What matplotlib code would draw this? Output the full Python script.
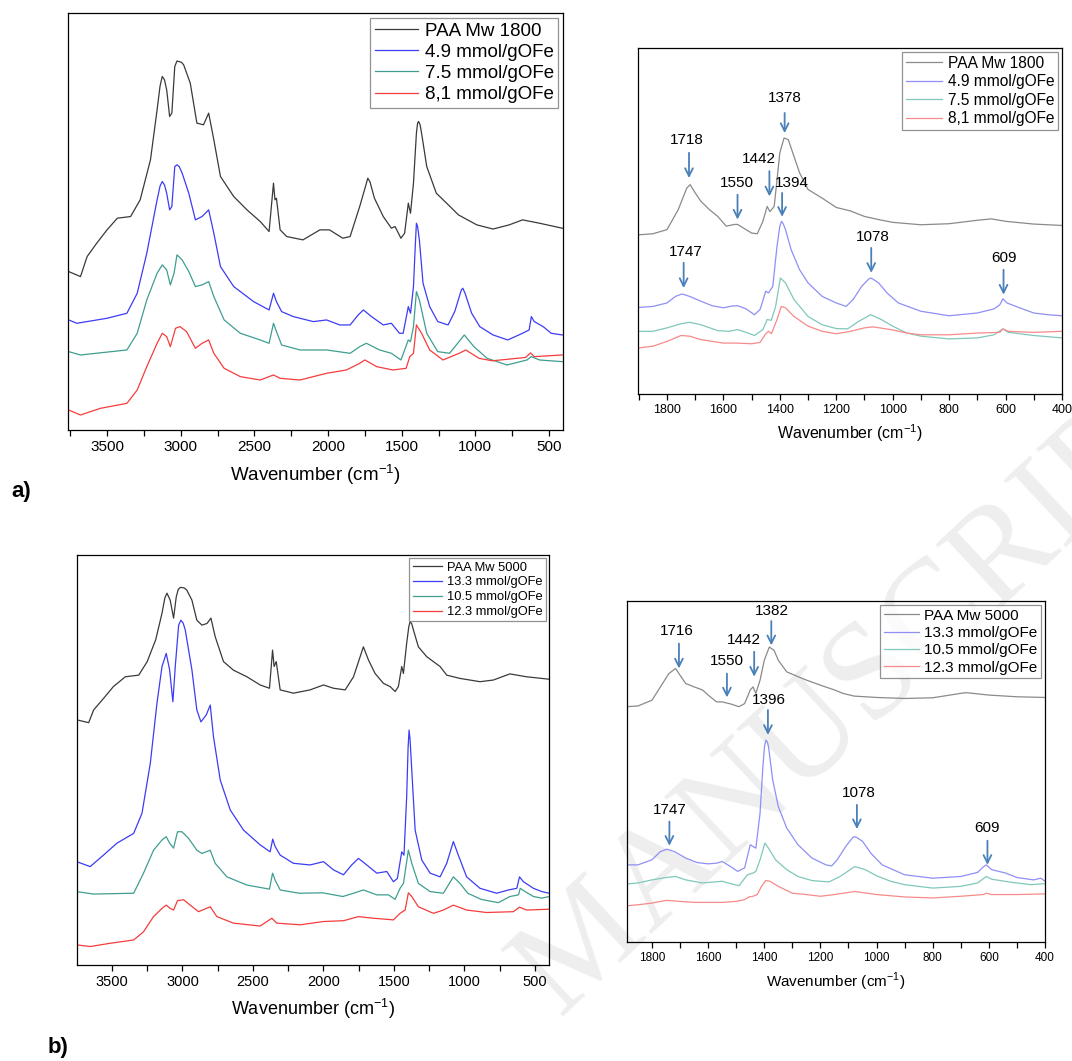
import matplotlib
matplotlib.use("Agg")
import matplotlib.pyplot as plt
from matplotlib.ticker import MultipleLocator

plt.rcParams['font.family'] = ['Liberation Sans', 'DejaVu Sans']

# ---------------- panel a, full range (PAA Mw 1800) ----------------
a_full_paa_wn = [3760, 3680, 3635, 3570, 3500, 3430, 3340, 3275, 3205, 3160, 3140, 3125, 3110, 3095,
                 3075, 3060, 3040, 3025, 3015, 2995, 2980, 2935, 2890, 2845, 2810, 2775, 2730, 2640,
                 2550, 2460, 2400, 2370, 2360, 2350, 2325, 2280, 2170, 2055, 1990, 1900, 1850, 1785,
                 1745, 1730, 1715, 1685, 1625, 1570, 1545, 1505, 1480, 1455, 1440, 1420, 1400, 1392,
                 1385, 1375, 1365, 1330, 1265, 1195, 1115, 990, 880, 770, 680, 565, 410]
a_full_paa_y = [38.0, 36.8, 41.6, 44.8, 48.0, 50.8, 51.2, 55.2, 64.8, 76.8, 82.5, 84.8, 84.0, 81.6,
                75.2, 76.0, 87.2, 88.5, 88.4, 88.2, 87.6, 83.2, 73.6, 73.2, 76.0, 69.6, 60.8, 56.0,
                52.8, 50.0, 47.6, 59.2, 55.2, 55.6, 48.0, 46.4, 45.6, 48.0, 48.0, 46.0, 46.4, 53.6,
                58.5, 60.4, 59.5, 55.6, 51.2, 48.4, 48.8, 46.0, 47.2, 54.4, 52.0, 59.2, 71.2, 73.6,
                74.0, 73.2, 71.2, 63.2, 56.8, 54.4, 51.6, 49.2, 48.2, 49.2, 50.4, 49.6, 48.4]

a_full_49_wn = [3760, 3705, 3500, 3365, 3295, 3230, 3160, 3140, 3125, 3110, 3095, 3075, 3060, 3040,
                3025, 3010, 2990, 2945, 2900, 2855, 2810, 2775, 2730, 2640, 2505, 2400, 2370, 2350,
                2315, 2235, 2100, 2010, 1920, 1850, 1795, 1760, 1705, 1625, 1570, 1515, 1490, 1455,
                1440, 1420, 1408, 1400, 1392, 1380, 1355, 1310, 1255, 1185, 1140, 1095, 1085, 1070,
                1025, 970, 880, 780, 680, 635, 620, 600, 540, 485, 410]
a_full_49_y = [26.4, 25.6, 26.8, 28.0, 32.8, 42.4, 55.2, 58.5, 59.6, 58.8, 56.8, 52.8, 53.6, 63.2,
               63.6, 63.2, 61.6, 56.8, 50.4, 51.2, 52.8, 47.2, 39.2, 34.4, 30.8, 28.8, 32.8, 30.8,
               28.4, 27.2, 26.0, 26.4, 25.2, 25.2, 27.6, 28.8, 27.2, 25.2, 25.6, 23.2, 23.2, 29.6,
               28.0, 34.4, 44.0, 49.6, 48.8, 45.6, 35.2, 29.6, 26.0, 25.2, 28.4, 33.6, 34.0, 32.8,
               28.0, 24.8, 22.8, 21.6, 23.2, 24.0, 27.2, 26.0, 24.8, 23.2, 22.8]

a_full_75_wn = [3760, 3680, 3365, 3295, 3230, 3160, 3125, 3095, 3070, 3045, 3025, 2990, 2945, 2900,
                2855, 2810, 2775, 2705, 2595, 2460, 2400, 2370, 2350, 2315, 2190, 2010, 1850, 1785,
                1740, 1650, 1570, 1505, 1455, 1440, 1420, 1400, 1380, 1330, 1255, 1175, 1120, 1075,
                1010, 920, 785, 650, 620, 565, 410]
a_full_75_y = [18.8, 18.0, 19.2, 23.2, 31.2, 37.6, 39.6, 38.4, 34.8, 37.6, 42.0, 40.8, 38.0, 34.4,
               34.8, 35.6, 32.0, 26.4, 23.2, 21.6, 20.8, 25.6, 23.6, 20.4, 19.2, 19.2, 18.4, 20.0,
               20.8, 19.2, 18.4, 16.8, 21.6, 21.2, 24.8, 33.2, 31.2, 23.2, 18.8, 18.4, 20.8, 22.8,
               20.0, 17.2, 15.6, 16.8, 17.6, 16.8, 16.4]

a_full_81_wn = [3760, 3680, 3545, 3365, 3295, 3230, 3160, 3125, 3095, 3070, 3035, 3005, 2960, 2900,
                2855, 2810, 2775, 2705, 2595, 2460, 2370, 2325, 2190, 2010, 1875, 1785, 1750, 1670,
                1560, 1470, 1445, 1420, 1400, 1365, 1310, 1220, 1110, 1065, 975, 885, 660, 625, 600,
                410]
a_full_81_y = [4.8, 3.6, 5.2, 6.4, 9.6, 15.2, 20.8, 23.2, 22.4, 20.0, 24.4, 24.8, 23.6, 19.6,
               20.8, 21.6, 18.4, 14.8, 12.8, 12.0, 13.2, 12.4, 12.0, 13.6, 14.4, 16.0, 16.8, 15.2,
               14.4, 14.8, 17.6, 18.4, 25.2, 23.2, 19.2, 16.8, 18.4, 19.2, 17.2, 16.6, 17.4, 18.5,
               17.6, 18.0]

# ---------------- panel a, zoomed range ----------------
a_zoom_paa_wn = [1900, 1850, 1800, 1760, 1730, 1718, 1700, 1680, 1650, 1620, 1590, 1560, 1550, 1530,
                 1500, 1480, 1460, 1445, 1435, 1420, 1400, 1385, 1370, 1350, 1330, 1300, 1250, 1200,
                 1150, 1100, 1050, 1000, 900, 800, 700, 650, 600, 500, 400]
a_zoom_paa_y = [46.0, 46.3, 47.5, 53.3, 59.5, 60.5, 58.1, 55.7, 53.3, 51.3, 48.5, 49.0, 49.0, 48.0,
                46.5, 46.3, 49.9, 54.2, 52.7, 54.2, 69.7, 74.0, 73.5, 68.7, 63.9, 59.1, 56.6, 53.9,
                52.9, 51.3, 50.4, 49.6, 48.9, 49.2, 50.2, 50.6, 49.9, 49.1, 48.7]

a_zoom_49_wn = [1900, 1850, 1800, 1770, 1747, 1720, 1680, 1640, 1600, 1570, 1550, 1520, 1490, 1470,
                1450, 1440, 1425, 1410, 1400, 1394, 1388, 1380, 1360, 1330, 1300, 1250, 1200, 1165,
                1140, 1110, 1085, 1078, 1070, 1050, 1020, 980, 900, 800, 700, 640, 620, 609, 595,
                550, 500, 450, 400]
a_zoom_49_y = [25.0, 25.3, 26.3, 28.2, 28.9, 28.2, 26.8, 25.5, 24.9, 25.4, 25.5, 24.6, 22.9, 24.4,
               29.7, 29.2, 31.1, 42.7, 48.5, 49.9, 49.2, 47.5, 41.7, 35.9, 32.1, 28.2, 26.3, 25.3,
               27.3, 31.1, 33.2, 33.5, 33.2, 32.1, 29.2, 26.3, 23.9, 22.6, 23.4, 24.6, 25.8, 27.5,
               26.3, 24.9, 23.4, 22.9, 22.6]

a_zoom_75_wn = [1900, 1850, 1800, 1750, 1720, 1680, 1620, 1580, 1550, 1520, 1490, 1460, 1445, 1430,
                1415, 1398, 1380, 1350, 1300, 1250, 1200, 1160, 1120, 1078, 1040, 1000, 950, 900,
                800, 700, 640, 610, 590, 500, 400]
a_zoom_75_y = [18.1, 18.1, 19.1, 20.3, 20.7, 20.0, 18.3, 18.1, 18.6, 17.8, 16.9, 18.6, 21.5, 21.3,
               25.3, 33.5, 32.1, 27.3, 22.4, 20.0, 18.9, 18.8, 21.0, 22.9, 21.5, 19.6, 17.6, 16.7,
               15.9, 16.2, 17.1, 18.8, 17.8, 16.9, 16.2]

a_zoom_81_wn = [1900, 1850, 1800, 1750, 1720, 1680, 1640, 1600, 1550, 1500, 1470, 1450, 1440, 1430,
                1410, 1395, 1380, 1350, 1300, 1250, 1200, 1150, 1100, 1070, 1000, 950, 900, 800,
                700, 620, 609, 590, 500, 400]
a_zoom_81_y = [13.3, 13.8, 15.2, 16.9, 16.7, 15.7, 15.2, 14.7, 14.7, 14.5, 14.9, 17.4, 18.1, 17.4,
               21.5, 25.3, 24.9, 22.4, 19.6, 18.1, 17.4, 18.1, 19.1, 19.4, 18.5, 17.6, 17.1, 17.1,
               17.6, 17.8, 18.8, 18.1, 17.8, 18.1]

a_peak_labels = ['1718', '1550', '1442', '1378', '1394', '1747', '1078', '609']
a_peak_x = [1722, 1550, 1437, 1383, 1392, 1741, 1076, 607]
a_arrow_top = [69.7, 57.6, 64.4, 81.2, 58.1, 37.9, 42.2, 35.9]
a_arrow_tip = [62.4, 50.4, 57.1, 75.4, 51.2, 30.6, 35.0, 28.7]
a_text_x = [1729, 1551, 1474, 1381, 1357, 1735, 1069, 607]
a_text_y = [72.3, 59.8, 66.8, 84.4, 59.8, 40.0, 44.1, 38.2]

# ---------------- panel b, full range (PAA Mw 5000) ----------------
b_full_paa_wn = [3750, 3665, 3630, 3560, 3490, 3405, 3310, 3250, 3190, 3145, 3125, 3110, 3087, 3063,
                 3044, 3030, 3015, 2990, 2970, 2933, 2898, 2862, 2826, 2798, 2768, 2709, 2638, 2543,
                 2449, 2383, 2361, 2350, 2335, 2307, 2213, 2095, 2000, 1929, 1846, 1787, 1740, 1717,
                 1681, 1634, 1575, 1527, 1492, 1469, 1445, 1433, 1410, 1395, 1386, 1375, 1362, 1327,
                 1268, 1173, 1126, 1032, 890, 796, 678, 560, 400]
b_full_paa_y = [59.8, 59.1, 62.2, 65.0, 67.9, 70.3, 70.7, 74.0, 79.3, 85.8, 89.5, 90.7, 89.0, 84.6,
                89.8, 91.6, 92.1, 92.0, 91.5, 89.0, 84.1, 82.9, 83.3, 84.6, 80.1, 74.0, 71.9, 70.3,
                68.3, 67.5, 76.8, 72.8, 74.0, 67.1, 66.3, 67.1, 68.3, 67.5, 67.1, 70.3, 75.2, 77.6,
                74.4, 71.1, 68.7, 67.9, 66.7, 67.9, 72.8, 71.1, 78.5, 82.5, 83.7, 83.3, 81.7, 77.6,
                75.2, 72.8, 70.7, 69.9, 69.1, 69.5, 71.0, 70.3, 69.7]

b_full_133_wn = [3750, 3654, 3560, 3465, 3346, 3287, 3228, 3181, 3145, 3115, 3091, 3068, 3051, 3027,
                 3011, 2995, 2980, 2933, 2898, 2869, 2831, 2803, 2780, 2732, 2661, 2567, 2449, 2378,
                 2360, 2343, 2307, 2213, 2095, 2000, 1929, 1858, 1800, 1752, 1693, 1622, 1551, 1504,
                 1476, 1445, 1429, 1410, 1400, 1393, 1386, 1374, 1350, 1303, 1244, 1173, 1126, 1079,
                 1044, 985, 890, 772, 688, 629, 610, 582, 511, 452, 400]
b_full_133_y = [25.2, 24.0, 26.8, 29.7, 32.1, 37.0, 49.2, 63.8, 72.8, 76.0, 72.0, 64.2, 72.8, 82.9,
                84.1, 83.4, 81.7, 72.0, 62.2, 59.3, 61.0, 63.4, 55.7, 45.1, 37.8, 32.9, 29.3, 27.6,
                30.7, 28.9, 26.8, 24.8, 24.4, 25.2, 23.2, 22.0, 24.4, 26.0, 24.4, 22.4, 22.8, 20.3,
                21.1, 27.6, 26.8, 41.1, 53.0, 57.3, 55.0, 47.6, 32.9, 25.6, 22.4, 21.5, 24.8, 30.1,
                26.8, 21.5, 18.7, 17.5, 18.3, 18.7, 21.5, 20.3, 18.7, 17.9, 17.5]

b_full_105_wn = [3750, 3632, 3346, 3276, 3205, 3145, 3115, 3091, 3063, 3035, 3004, 2957, 2898, 2862,
                 2803, 2768, 2685, 2543, 2383, 2361, 2343, 2307, 2172, 2005, 1863, 1787, 1717, 1622,
                 1539, 1492, 1457, 1433, 1398, 1374, 1327, 1244, 1150, 1079, 1032, 977, 882, 760,
                 678, 617, 605, 570, 511, 452, 400]
b_full_105_y = [17.9, 17.3, 17.5, 22.4, 28.0, 30.5, 31.3, 29.7, 28.5, 32.5, 32.5, 30.9, 28.0, 27.2,
                28.0, 24.8, 21.5, 19.5, 18.5, 22.4, 20.7, 18.3, 17.5, 17.6, 16.7, 17.5, 18.3, 17.1,
                17.1, 16.0, 18.7, 19.9, 28.0, 24.8, 19.9, 17.9, 17.5, 21.5, 19.9, 17.5, 16.0, 15.2,
                16.7, 17.1, 18.7, 17.9, 16.7, 16.3, 16.7]

b_full_123_wn = [3750, 3654, 3512, 3346, 3276, 3205, 3145, 3115, 3087, 3063, 3035, 2992, 2945, 2886,
                 2803, 2756, 2638, 2449, 2366, 2331, 2165, 2000, 1858, 1752, 1646, 1504, 1457, 1421,
                 1398, 1374, 1327, 1220, 1150, 1079, 985, 843, 654, 610, 560, 400]
b_full_123_y = [4.9, 4.5, 5.3, 6.1, 8.1, 11.8, 13.8, 14.6, 13.8, 13.4, 15.7, 15.9, 14.6, 13.0,
                14.2, 11.8, 10.2, 9.5, 11.4, 10.2, 9.8, 10.6, 10.8, 11.8, 11.4, 11.0, 12.6, 13.4,
                17.6, 16.7, 14.2, 12.6, 13.4, 14.6, 13.4, 12.8, 13.0, 14.1, 13.4, 13.6]

# ---------------- panel b, zoomed range ----------------
b_zoom_paa_wn = [1890, 1850, 1800, 1770, 1740, 1716, 1700, 1680, 1650, 1620, 1600, 1570, 1550, 1520,
                 1490, 1470, 1450, 1440, 1430, 1415, 1400, 1382, 1365, 1350, 1320, 1280, 1250, 1200,
                 1150, 1120, 1080, 1000, 900, 800, 700, 680, 600, 500, 400]
b_zoom_paa_y = [69.0, 69.2, 70.9, 74.8, 78.7, 80.2, 78.2, 75.8, 74.8, 73.9, 72.4, 70.4, 70.4, 69.8,
                69.0, 69.9, 73.9, 74.8, 72.9, 76.8, 82.6, 86.5, 85.5, 82.6, 79.2, 77.8, 76.8, 75.3,
                73.9, 72.9, 72.1, 71.7, 71.4, 71.6, 72.9, 73.1, 72.4, 71.9, 71.7]

b_zoom_133_wn = [1890, 1850, 1800, 1770, 1747, 1720, 1680, 1640, 1600, 1570, 1550, 1520, 1495, 1470,
                 1450, 1440, 1430, 1415, 1405, 1399, 1394, 1389, 1385, 1370, 1350, 1320, 1280, 1230,
                 1180, 1160, 1140, 1110, 1085, 1078, 1070, 1050, 1020, 980, 900, 800, 700, 640, 620,
                 609, 590, 540, 500, 440, 415, 400]
b_zoom_133_y = [22.6, 22.6, 24.1, 26.5, 27.2, 26.5, 24.6, 23.3, 22.9, 23.1, 23.6, 22.1, 20.7, 21.7,
                28.5, 28.0, 27.5, 37.8, 51.4, 57.5, 59.2, 58.6, 57.3, 47.5, 39.7, 33.4, 28.5, 24.6,
                22.6, 22.3, 24.1, 28.0, 30.6, 30.9, 30.6, 29.5, 26.0, 22.6, 19.7, 18.7, 19.2, 20.4,
                22.0, 22.6, 21.2, 20.2, 18.9, 18.2, 18.7, 17.8]

b_zoom_105_wn = [1890, 1850, 1800, 1750, 1716, 1680, 1620, 1550, 1520, 1490, 1460, 1440, 1430, 1415,
                 1398, 1385, 1360, 1320, 1280, 1230, 1170, 1130, 1078, 1040, 1000, 950, 900, 800,
                 700, 640, 609, 590, 520, 450, 400]
b_zoom_105_y = [17.0, 17.3, 18.2, 18.9, 19.2, 18.2, 17.3, 17.8, 17.1, 16.5, 19.7, 20.2, 20.7, 24.1,
                29.0, 27.5, 24.1, 21.2, 19.2, 18.0, 17.6, 19.2, 22.1, 21.2, 19.4, 17.8, 16.8, 15.8,
                16.3, 17.3, 19.2, 18.4, 17.5, 16.8, 17.1]

b_zoom_123_wn = [1890, 1850, 1800, 1750, 1700, 1650, 1600, 1550, 1500, 1470, 1455, 1440, 1425, 1410,
                 1395, 1380, 1350, 1300, 1250, 1200, 1150, 1078, 1000, 900, 800, 700, 620, 609, 590,
                 500, 400]
b_zoom_123_y = [10.6, 10.9, 11.4, 12.2, 11.9, 11.6, 11.6, 11.6, 11.9, 12.4, 13.2, 13.4, 13.9, 16.3,
                18.0, 17.8, 16.3, 14.3, 13.9, 13.4, 13.9, 14.8, 13.9, 13.2, 12.9, 13.4, 13.9, 14.3,
                13.9, 13.9, 14.1]

b_peak_labels = ['1716', '1550', '1442', '1382', '1396', '1747', '1078', '609']
b_peak_x = [1704, 1533, 1436, 1375, 1387, 1738, 1070, 605]
b_arrow_top = [87.5, 78.7, 85.1, 94.1, 68.0, 35.3, 40.2, 29.7]
b_arrow_tip = [80.2, 71.7, 77.8, 87.0, 60.7, 28.2, 33.1, 22.6]
b_text_x = [1710, 1534, 1473, 1374, 1385, 1738, 1063, 607]
b_text_y = [90.1, 81.1, 87.5, 95.8, 69.7, 37.5, 42.4, 32.1]

a_names = ['PAA Mw 1800', '4.9 mmol/gOFe', '7.5 mmol/gOFe', '8,1 mmol/gOFe']
b_names = ['PAA Mw 5000', '13.3 mmol/gOFe', '10.5 mmol/gOFe', '12.3 mmol/gOFe']

dark_colors = ['#3a3a3a', '#3c3cf5', '#3f9e90', '#f53c3c']
light_colors = ['#8a8a8a', '#8f8ff7', '#80c8bb', '#f78a8a']
arrow_color = '#4a80b8'


def setup_axes(ax, xlim, major, minor, tick_size):
    ax.set_xlim(*xlim)
    ax.set_ylim(0, 100)
    ax.set_yticks([])
    ax.xaxis.set_major_locator(MultipleLocator(major))
    ax.xaxis.set_minor_locator(MultipleLocator(minor))
    ax.tick_params(axis='x', which='both', direction='out', top=False, length=4, width=0.9,
                   labelsize=tick_size, pad=3)
    for sp in ax.spines.values():
        sp.set_linewidth(0.9)
    ax.patch.set_alpha(0)


def draw_curves(ax, curves, names, colors, lw):
    for (wn, y), name, c in zip(curves, names, colors):
        ax.plot(wn, y, color=c, lw=lw, label=name, solid_joinstyle='round')


def add_legend(ax, size):
    leg = ax.legend(loc='upper right', fontsize=size, frameon=True, fancybox=False,
                    edgecolor='#777777', borderpad=0.25, labelspacing=0.22, handlelength=2.3,
                    handletextpad=0.35, borderaxespad=0.25)
    leg.get_frame().set_linewidth(0.9)


def add_peaks(ax, labels, px, top, tip, tx, ty, size):
    for lab, x, y0, y1, xt, yt in zip(labels, px, top, tip, tx, ty):
        ax.annotate('', xy=(x, y1), xytext=(x, y0),
                    arrowprops=dict(arrowstyle='->', color=arrow_color, lw=1.3,
                                    mutation_scale=14, shrinkA=0, shrinkB=0))
        ax.text(xt, yt, lab, ha='center', va='baseline', fontsize=size)


fig = plt.figure(figsize=(10.72, 10.61), dpi=100)

# faint watermark, kept behind the axes
fig.text(0.522, 0.042, 'MANUSCRIPT', rotation=43, rotation_mode='anchor', ha='left',
         va='baseline', fontsize=100, color='#eeeeee', family='Liberation Serif', zorder=-5)

xlab = 'Wavenumber (cm$^{\\mathregular{-1}}$)'

ax1 = fig.add_axes([0.0634, 0.5947, 0.4618, 0.3930])
setup_axes(ax1, (3765, 405), 500, 250, 11)
draw_curves(ax1, [(a_full_paa_wn, a_full_paa_y), (a_full_49_wn, a_full_49_y),
                  (a_full_75_wn, a_full_75_y), (a_full_81_wn, a_full_81_y)],
            a_names, dark_colors, 0.9)
add_legend(ax1, 13.5)
ax1.set_xlabel(xlab, fontsize=13.5, labelpad=6)

ax2 = fig.add_axes([0.5951, 0.6287, 0.3955, 0.3261])
setup_axes(ax2, (1903, 400), 200, 100, 9)
draw_curves(ax2, [(a_zoom_paa_wn, a_zoom_paa_y), (a_zoom_49_wn, a_zoom_49_y),
                  (a_zoom_75_wn, a_zoom_75_y), (a_zoom_81_wn, a_zoom_81_y)],
            a_names, light_colors, 0.9)
add_legend(ax2, 11.2)
add_peaks(ax2, a_peak_labels, a_peak_x, a_arrow_top, a_arrow_tip, a_text_x, a_text_y, 11)
ax2.set_xlabel(xlab, fontsize=11.5, labelpad=5)

ax3 = fig.add_axes([0.0718, 0.0905, 0.4403, 0.3864])
setup_axes(ax3, (3748, 401), 500, 250, 10.5)
draw_curves(ax3, [(b_full_paa_wn, b_full_paa_y), (b_full_133_wn, b_full_133_y),
                  (b_full_105_wn, b_full_105_y), (b_full_123_wn, b_full_123_y)],
            b_names, dark_colors, 0.9)
add_legend(ax3, 9.3)
ax3.set_xlabel(xlab, fontsize=13, labelpad=6)

ax4 = fig.add_axes([0.5849, 0.1122, 0.3899, 0.3214])
setup_axes(ax4, (1889, 400), 200, 100, 8.5)
draw_curves(ax4, [(b_zoom_paa_wn, b_zoom_paa_y), (b_zoom_133_wn, b_zoom_133_y),
                  (b_zoom_105_wn, b_zoom_105_y), (b_zoom_123_wn, b_zoom_123_y)],
            b_names, light_colors, 0.9)
add_legend(ax4, 11)
add_peaks(ax4, b_peak_labels, b_peak_x, b_arrow_top, b_arrow_tip, b_text_x, b_text_y, 11)
ax4.set_xlabel(xlab, fontsize=11, labelpad=5)

fig.text(0.011, 0.532, 'a)', fontsize=16, fontweight='bold', va='baseline')
fig.text(0.044, 0.008, 'b)', fontsize=16, fontweight='bold', va='baseline')

fig.savefig('out.png', dpi=100)
